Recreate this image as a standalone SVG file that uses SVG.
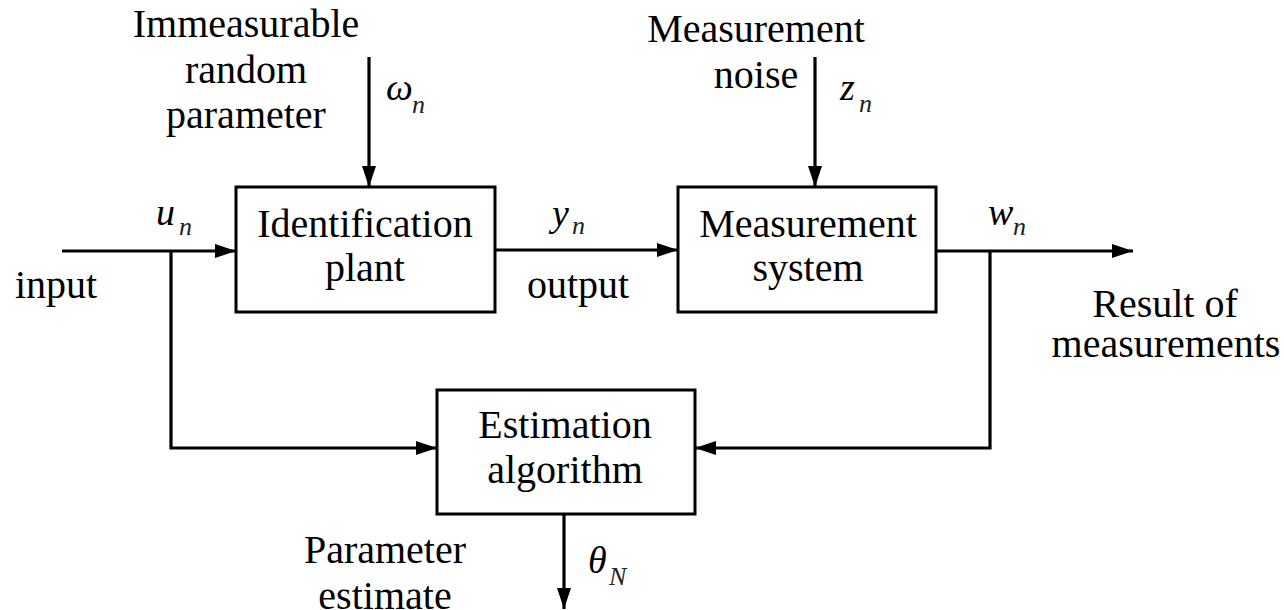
<svg xmlns="http://www.w3.org/2000/svg" width="1284" height="610" viewBox="0 0 1284 610" font-family="'Liberation Serif', 'DejaVu Serif', serif">
<style>
text{fill:#000}
.t{font-size:40px}
.m{text-anchor:middle}
.v{font-size:38px;font-style:italic}
.s{font-size:26px;font-style:italic;fill:#222}
.box{fill:#fff;stroke:#000;stroke-width:3}
.ln{fill:none;stroke:#000;stroke-width:3.2}
</style>
<defs>
<marker id="ah" markerUnits="userSpaceOnUse" markerWidth="22" markerHeight="16" refX="21" refY="7" orient="auto">
<path d="M0,0 L21,7 L0,14 z" fill="#000"/>
</marker>
</defs>
<g id="connectors">
<path class="ln" d="M62,251 H236" marker-end="url(#ah)"/>
<path class="ln" d="M171,251 V448 H437" marker-end="url(#ah)"/>
<path class="ln" d="M495,250 H678" marker-end="url(#ah)"/>
<path class="ln" d="M936,251 H1133" marker-end="url(#ah)"/>
<path class="ln" d="M990,251 V448 H695" marker-end="url(#ah)"/>
<path class="ln" d="M369,57 V187" marker-end="url(#ah)"/>
<path class="ln" d="M815,57 V187" marker-end="url(#ah)"/>
<path class="ln" d="M564,514 V609" marker-end="url(#ah)"/>
</g>
<g id="plant">
<rect class="box" x="236" y="187" width="259" height="125"/>
<text class="t m" x="365" y="237">Identification</text>
<text class="t m" x="365" y="281">plant</text>
</g>
<g id="measurement-system">
<rect class="box" x="678" y="187" width="258" height="125"/>
<text class="t m" x="808" y="237">Measurement</text>
<text class="t m" x="808" y="281">system</text>
</g>
<g id="estimation">
<rect class="box" x="437" y="390" width="258" height="124"/>
<text class="t m" x="565" y="438">Estimation</text>
<text class="t m" x="565" y="483">algorithm</text>
</g>
<g id="labels">
<text class="t m" x="246" y="37">Immeasurable</text>
<text class="t m" x="246" y="83">random</text>
<text class="t m" x="246" y="128">parameter</text>
<text class="v" x="386" y="100">ω</text><text class="s" x="412" y="113">n</text>
<text class="t m" x="756" y="42">Measurement</text>
<text class="t m" x="756" y="88">noise</text>
<text class="v" x="840" y="100">z</text><text class="s" x="859" y="112">n</text>
<text class="v" x="156" y="225">u</text><text class="s" x="179" y="235">n</text>
<text class="t" x="15" y="298">input</text>
<text class="v" x="552" y="226">y</text><text class="s" x="572" y="234">n</text>
<text class="t m" x="578" y="298">output</text>
<text class="v" x="988" y="225">w</text><text class="s" x="1013" y="235">n</text>
<text class="t m" x="1165" y="317">Result of</text>
<text class="t m" x="1166" y="357">measurements</text>
<text class="t m" x="385" y="563">Parameter</text>
<text class="t m" x="385" y="609">estimate</text>
<text class="v" x="588" y="573">θ</text><text class="s" x="609" y="585">N</text>
</g>
</svg>
